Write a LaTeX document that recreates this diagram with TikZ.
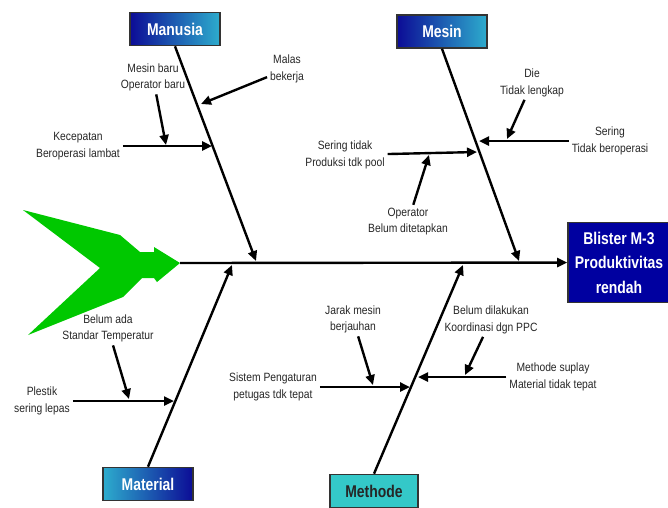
\documentclass[tikz,border=0pt]{standalone}
\usepackage{fontspec}
\setmainfont{Liberation Sans}
\newfontfamily\narrowfont[FakeStretch=0.82]{Liberation Sans}
\newfontfamily\notefont[FakeStretch=0.86]{Liberation Sans}
\usetikzlibrary{arrows.meta}
\definecolor{navyblue}{RGB}{12,12,150}
\definecolor{tealblue}{RGB}{45,172,205}
\definecolor{methcyan}{RGB}{52,200,200}
\definecolor{fishgreen}{RGB}{0,200,0}
\definecolor{blisterblue}{RGB}{0,0,160}

\begin{document}
\begin{tikzpicture}[x=1pt,y=-1pt,
    cat/.style={draw=black!80,line width=1.6pt,minimum width=90pt,minimum height=33pt,
      inner sep=0pt,text=white,font=\narrowfont\fontsize{17}{20}\selectfont\bfseries},
    note/.style={align=center,inner sep=0pt,outer sep=3pt,text=black!85,
      font=\notefont\fontsize{12}{16.5}\selectfont},
    bone/.style={line width=2.4pt,-{Triangle[length=10pt,width=9pt]}}]
  \useasboundingbox (0,0) rectangle (668,507);
  % fish tail
  \fill[fishgreen] (23,210) -- (120,235) -- (140,252) -- (154,252) -- (154,247) -- (180,263)
    -- (157,282) -- (154,278) -- (142,278) -- (123,297) -- (28,335) -- (100,268) -- cycle;
  \coordinate (tail) at (180,263);
  % head
  \node[draw=black!80,line width=1.6pt,fill=blisterblue,text=white,align=center,
    minimum width=102pt,minimum height=80pt,inner sep=0pt,
    font=\narrowfont\fontsize{17}{24.5}\selectfont\bfseries] (blister) at (619,262.5)
    {Blister M-3\\Produktivitas\\rendah};
  \draw[bone] (tail) -- (blister);
  % categories
  \node[cat,left color=navyblue,right color=tealblue] (manusia) at (175,29) {Manusia};
  \node[cat,left color=navyblue,right color=tealblue] (mesin) at (442,31.5) {Mesin};
  \node[cat,left color=tealblue,right color=navyblue] (material) at (148,484) {Material};
  \node[cat,fill=methcyan,text=black!85,minimum width=88pt] (methode) at (374,491) {Methode};
  \coordinate (ms) at (256,261);
  \coordinate (mes) at (519,261);
  \coordinate (mat) at (232,265);
  \coordinate (met) at (463,265);
  \draw[bone] (manusia.south) -- (ms);
  \draw[bone] (mesin.south) -- (mes);
  \draw[bone] (material.north) -- (mat);
  \draw[bone] (methode.north) -- (met);
  % Manusia
  \node[note] (kec) at (78,146) {Kecepatan\\Beroperasi lambat};
  \node[note] (mbaru) at (153,77.5) {Mesin baru\\Operator baru};
  \node[note] (malas) at (287,69) {Malas\\bekerja};
  \coordinate (kx) at (212,146);
  \coordinate (kb) at (166,145);
  \coordinate (mb) at (201,104);
  \draw[bone] (kec) -- (kx);
  \draw[bone] (mbaru) -- (kb);
  \draw[bone] (malas) -- (mb);
  % Mesin
  \node[note] (sering) at (610,141) {Sering\\Tidak beroperasi};
  \node[note] (die) at (532,83) {Die\\Tidak lengkap};
  \node[note] (sertidak) at (345,155) {Sering tidak\\Produksi tdk pool};
  \node[note] (oper) at (408,221.5) {Operator\\Belum ditetapkan};
  \coordinate (sx) at (479,141);
  \coordinate (db) at (507,139);
  \coordinate (stx) at (477,152);
  \coordinate (ob) at (429,155);
  \draw[bone] (sering) -- (sx);
  \draw[bone] (die) -- (db);
  \draw[bone] (sertidak) -- (stx);
  \draw[bone] (oper) -- (ob);
  % Material
  \node[note] (plestik) at (42,401) {Plestik\\sering lepas};
  \node[note] (belum) at (108,328.5) {Belum ada\\Standar Temperatur};
  \coordinate (px) at (174,401);
  \coordinate (pb) at (129,399);
  \draw[bone] (plestik) -- (px);
  \draw[bone] (belum) -- (pb);
  % Methode
  \node[note] (sistem) at (273,387) {Sistem Pengaturan\\petugas tdk tepat};
  \node[note] (jarak) at (353,319.5) {Jarak mesin\\berjauhan};
  \node[note] (metsup) at (553,377) {Methode suplay\\Material tidak tepat};
  \node[note] (blmdil) at (491,320) {Belum dilakukan\\Koordinasi dgn PPC};
  \coordinate (sisx) at (410,387);
  \coordinate (jb) at (373,385);
  \coordinate (msx) at (418,377);
  \coordinate (bb) at (465,375);
  \draw[bone] (sistem) -- (sisx);
  \draw[bone] (jarak) -- (jb);
  \draw[bone] (metsup) -- (msx);
  \draw[bone] (blmdil) -- (bb);
\end{tikzpicture}
\end{document}
